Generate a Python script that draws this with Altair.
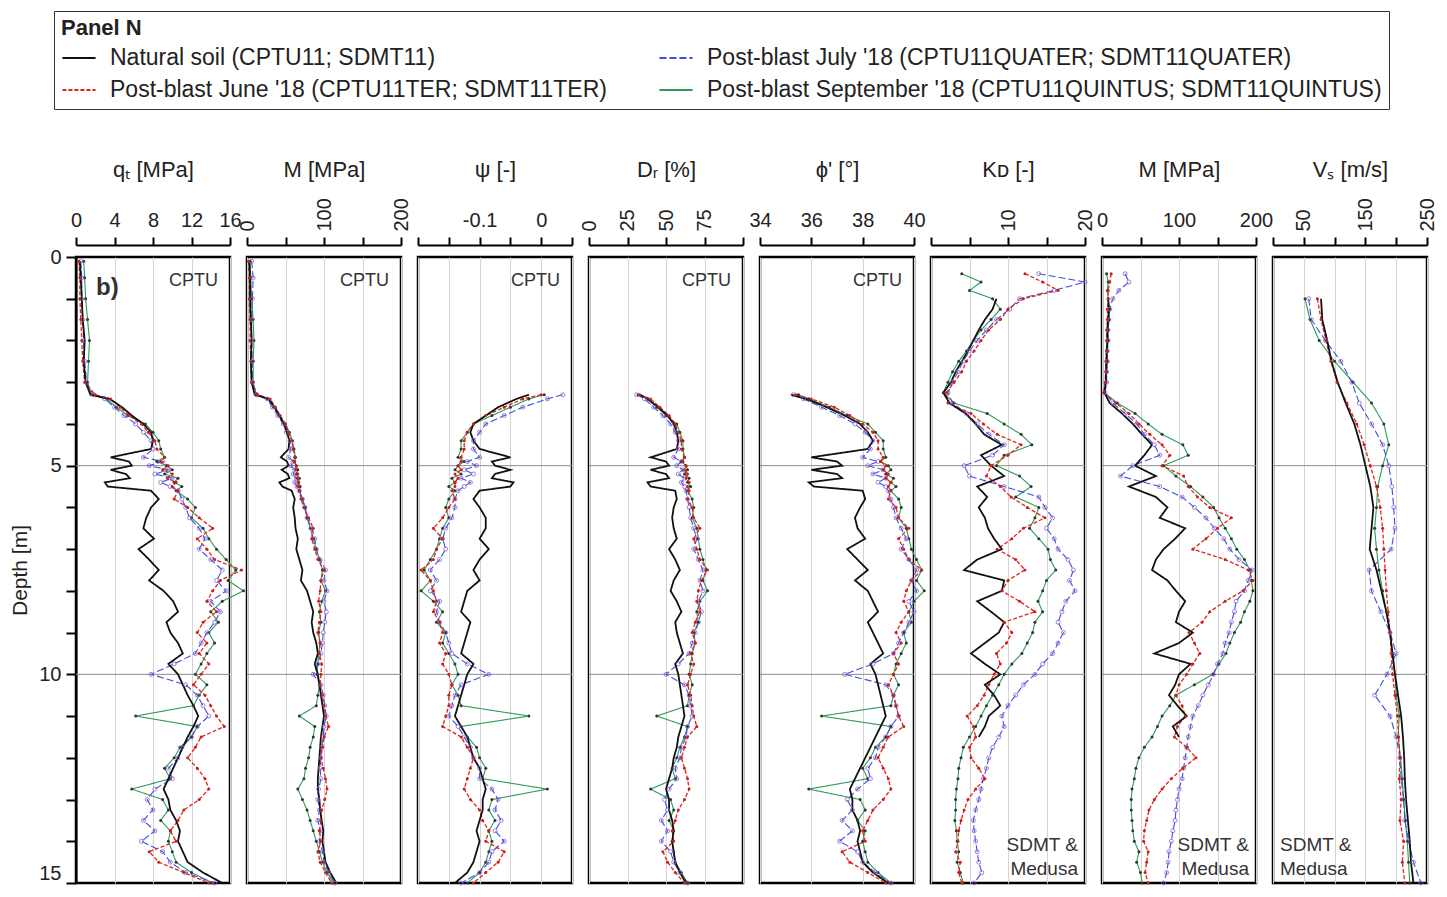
import altair as alt
import pandas as pd

NAT = "Natural soil (CPTU11; SDMT11)"
JUN = "Post-blast June '18 (CPTU11TER; SDMT11TER)"
JUL = "Post-blast July '18 (CPTU11QUATER; SDMT11QUATER)"
SEP = "Post-blast September '18 (CPTU11QUINTUS; SDMT11QUINTUS)"

# legend is filled column by column: Natural / June | July / September
series_order = [NAT, JUN, JUL, SEP]
series_colors = ["#111111", "#e0261b", "#3d4fe0", "#2e9b57"]
series_dash = [[1, 0], [4, 2], [7, 3], [1, 0]]

# ---------------- CPTU depths [m] ----------------
cptu_depth = [0.1, 0.5, 1.0, 1.5, 2.0, 2.5, 3.0, 3.3, 3.4, 3.6, 3.8, 4.0, 4.2, 4.4, 4.6,
              4.8, 4.9, 5.0, 5.1, 5.2, 5.3, 5.4, 5.5, 5.6, 5.8, 6.0, 6.25, 6.5, 6.75, 7.0,
              7.25, 7.5, 7.75, 8.0, 8.25, 8.5, 8.75, 9.0, 9.25, 9.5, 9.75, 10.0, 10.25, 10.5,
              10.75, 11.0, 11.25, 11.5, 11.75, 12.0, 12.25, 12.5, 12.75, 13.0, 13.25, 13.5,
              13.75, 14.0, 14.25, 14.5, 14.75, 15.0]
sand_depth = cptu_depth[7:]

# qt [MPa]
qt_nat = [0.4, 0.5, 0.6, 0.7, 0.9, 0.8, 1.0, 1.5, 3.5, 4.8, 5.8, 7.0, 7.8, 8.0, 7.8, 3.6, 5.5, 5.8, 3.6, 5.2,
          5.6, 3.0, 3.3, 7.8, 8.6, 7.8, 7.3, 7.0, 8.1, 6.5, 7.6, 8.6, 7.6, 9.1, 10.1, 10.6, 9.4, 9.8, 10.6, 11.1,
          9.6, 10.6, 11.1, 11.6, 12.2, 12.7, 12.2, 11.6, 11.1, 10.6, 10.1, 9.6, 9.1, 9.6, 9.8, 10.4, 10.8, 10.6, 11.1, 11.6,
          13.2, 15.2]
qt_jun = [0.3, 0.4, 0.4, 0.5, 0.6, 0.7, 0.9, 2.0, 3.6, 4.6, 5.5, 6.8, 7.5, 8.2, 8.4, 9.2, 8.8, 9.6, 9.0, 10.0,
          9.5, 10.4, 10.0, 10.6, 10.2, 11.6, 12.8, 14.2, 12.6, 13.6, 14.4, 17.2, 15.0, 14.2, 13.6, 14.6, 13.2, 12.6, 13.6, 12.8,
          13.8, 13.0, 12.2, 13.4, 14.0, 14.6, 15.4, 13.0, 12.4, 11.6, 12.6, 13.4, 13.8, 12.8, 11.2, 10.6, 9.8, 10.4, 7.6, 8.6,
          11.2, 13.8]
qt_jul = [0.5, 0.6, 0.6, 0.7, 0.8, 0.9, 1.1, 1.8, 3.0, 4.0, 5.0, 6.2, 7.0, 7.8, 8.0, 7.0, 9.0, 7.6, 9.6, 8.2,
          10.0, 8.8, 9.8, 10.6, 11.0, 11.4, 11.8, 12.8, 13.4, 12.8, 14.0, 15.2, 14.6, 15.6, 14.0, 15.0, 14.4, 13.6, 13.0, 12.4,
          10.2, 7.8, 11.4, 12.6, 13.2, 13.8, 12.6, 12.0, 11.0, 10.6, 9.6, 10.0, 8.2, 7.4, 8.0, 7.0, 8.2, 6.8, 9.0, 9.8,
          11.4, 14.4]
qt_sep = [0.8, 0.9, 1.0, 1.2, 1.4, 1.3, 1.2, 1.6, 3.2, 4.2, 5.4, 7.2, 8.0, 8.6, 8.8, 9.2, 8.4, 9.4, 10.0, 9.2,
          10.6, 10.2, 11.0, 10.4, 11.6, 12.4, 12.0, 13.2, 13.8, 14.6, 15.6, 16.6, 15.8, 17.4, 15.2, 14.0, 14.8, 13.8, 14.4, 13.6,
          13.0, 12.4, 13.6, 12.8, 12.2, 6.2, 12.6, 12.0, 10.8, 10.2, 9.2, 9.8, 5.8, 9.0, 9.6, 8.8, 9.8, 9.6, 10.0, 10.4,
          12.0, 14.2]

# M from CPTU [MPa]
mc_nat = [3, 4, 4, 5, 6, 5, 6, 10, 28, 36, 42, 48, 52, 55, 54, 44, 52, 54, 45, 53,
          55, 42, 46, 58, 62, 60, 62, 63, 66, 64, 68, 72, 70, 78, 82, 86, 84, 86, 90, 92,
          88, 92, 94, 96, 98, 100, 98, 96, 95, 94, 93, 92, 92, 94, 95, 97, 99, 98, 100, 102, 108, 116]
mc_jun = [2, 3, 3, 4, 4, 5, 6, 14, 30, 37, 43, 50, 54, 58, 60, 62, 61, 64, 63, 66,
          65, 67, 66, 68, 70, 74, 80, 86, 84, 88, 92, 100, 96, 95, 93, 96, 94, 92, 95, 94,
          97, 96, 95, 98, 100, 102, 106, 100, 98, 96, 99, 102, 104, 101, 97, 96, 94, 96, 92, 95, 102, 110]
mc_jul = [6, 8, 7, 6, 6, 7, 7, 12, 26, 33, 40, 47, 51, 56, 57, 54, 60, 57, 62, 60,
          64, 62, 65, 68, 72, 75, 78, 84, 88, 90, 95, 102, 100, 104, 100, 103, 101, 99, 98, 96,
          92, 86, 96, 99, 101, 103, 100, 99, 97, 96, 95, 96, 93, 92, 94, 92, 95, 94, 98, 100, 106, 114]
mc_sep = [4, 5, 6, 8, 9, 8, 8, 12, 27, 35, 42, 50, 55, 59, 61, 63, 62, 64, 66, 64,
          68, 67, 69, 68, 72, 76, 78, 82, 86, 90, 94, 98, 96, 102, 97, 94, 96, 93, 95, 93,
          92, 91, 94, 92, 90, 68, 88, 86, 82, 80, 76, 74, 66, 72, 78, 82, 86, 90, 94, 98, 104, 112]

# state parameter psi [-] (from 3.3 m)
psi_nat = [-0.02, -0.04, -0.07, -0.09, -0.11, -0.115, -0.11, -0.1, -0.05, -0.08, -0.075, -0.05, -0.075, -0.08,
           -0.045, -0.05, -0.1, -0.11, -0.1, -0.09, -0.09, -0.1, -0.085, -0.1, -0.11, -0.1, -0.12, -0.125, -0.13,
           -0.115, -0.12, -0.125, -0.13, -0.11, -0.12, -0.125, -0.13, -0.135, -0.14, -0.13, -0.12, -0.115, -0.11,
           -0.1, -0.095, -0.09, -0.095, -0.095, -0.1, -0.105, -0.1, -0.105, -0.11, -0.12, -0.14]
psi_jun = [0.0, -0.03, -0.06, -0.09, -0.11, -0.12, -0.125, -0.125, -0.13, -0.13, -0.135, -0.13, -0.14, -0.135,
           -0.14, -0.14, -0.145, -0.14, -0.15, -0.16, -0.175, -0.16, -0.17, -0.175, -0.195, -0.18, -0.175, -0.17,
           -0.175, -0.165, -0.16, -0.165, -0.155, -0.16, -0.15, -0.145, -0.15, -0.15, -0.155, -0.16, -0.13, -0.12,
           -0.11, -0.115, -0.12, -0.125, -0.115, -0.1, -0.095, -0.085, -0.09, -0.06, -0.07, -0.09, -0.11]
psi_jul = [0.035, 0.01, -0.03, -0.06, -0.09, -0.1, -0.11, -0.11, -0.1, -0.12, -0.105, -0.125, -0.11, -0.13,
           -0.115, -0.125, -0.135, -0.14, -0.14, -0.145, -0.155, -0.16, -0.155, -0.165, -0.18, -0.17, -0.18, -0.165,
           -0.17, -0.165, -0.155, -0.15, -0.145, -0.12, -0.085, -0.13, -0.14, -0.145, -0.15, -0.135, -0.125, -0.115,
           -0.11, -0.1, -0.1, -0.08, -0.07, -0.075, -0.065, -0.075, -0.06, -0.08, -0.085, -0.1, -0.13]
psi_sep = [0.005, -0.02, -0.05, -0.08, -0.11, -0.12, -0.13, -0.13, -0.135, -0.125, -0.135, -0.14, -0.13, -0.145,
           -0.14, -0.15, -0.14, -0.15, -0.155, -0.15, -0.16, -0.165, -0.17, -0.18, -0.19, -0.18, -0.195, -0.175,
           -0.16, -0.17, -0.155, -0.16, -0.15, -0.14, -0.135, -0.145, -0.135, -0.13, -0.02, -0.13, -0.12, -0.105,
           -0.1, -0.09, -0.095, 0.01, -0.08, -0.085, -0.075, -0.085, -0.08, -0.085, -0.09, -0.1, -0.12]

# relative density DR [%]
dr_nat = [33, 38, 45, 51, 55, 57, 58, 57, 40, 50, 52, 40, 50, 52, 38, 40, 56, 57, 55, 54,
          55, 57, 52, 56, 59, 55, 53, 57, 60, 56, 57, 59, 61, 56, 58, 59, 60, 61, 62, 60,
          58, 57, 55, 54, 52, 50, 52, 52, 54, 55, 54, 55, 56, 59, 63]
dr_jun = [33, 40, 46, 52, 56, 58, 60, 60, 62, 61, 63, 62, 64, 63, 65, 64, 65, 64, 67, 68,
          72, 68, 70, 72, 77, 73, 71, 70, 72, 69, 67, 69, 66, 68, 66, 64, 66, 67, 68, 70,
          64, 62, 60, 62, 64, 65, 62, 58, 56, 54, 55, 48, 51, 56, 62]
dr_jul = [31, 36, 42, 48, 53, 56, 58, 58, 55, 60, 57, 61, 58, 62, 60, 62, 63, 64, 65, 66,
          68, 70, 68, 71, 74, 72, 74, 71, 73, 71, 69, 67, 65, 58, 50, 62, 65, 66, 67, 64,
          63, 60, 59, 56, 57, 52, 49, 51, 47, 51, 47, 53, 55, 59, 64]
dr_sep = [32, 38, 44, 50, 57, 59, 61, 61, 62, 60, 63, 64, 62, 65, 64, 66, 64, 67, 68, 67,
          70, 71, 72, 74, 76, 74, 77, 72, 70, 71, 68, 69, 67, 66, 65, 67, 65, 64, 44, 64,
          62, 59, 57, 54, 56, 40, 53, 55, 52, 55, 54, 55, 56, 60, 64]

# friction angle phi' [deg]
phi_nat = [35.2, 35.8, 36.6, 37.3, 37.9, 38.2, 38.4, 38.2, 36.0, 37.0, 37.2, 36.0, 37.0, 37.2, 35.9, 36.1,
           38.0, 38.1, 37.9, 37.7, 37.8, 38.1, 37.4, 37.8, 38.2, 37.7, 38.2, 38.4, 38.6, 38.2, 38.4, 38.6,
           38.8, 38.3, 38.5, 38.6, 38.7, 38.8, 38.9, 38.7, 38.5, 38.3, 38.1, 37.9, 37.7, 37.5, 37.6, 37.6,
           37.8, 37.9, 37.8, 37.9, 38.0, 38.4, 39.0]
phi_jun = [35.4, 36.0, 36.9, 37.5, 38.0, 38.4, 38.6, 38.6, 38.8, 38.7, 38.9, 38.8, 39.0, 38.9, 39.1, 39.0,
           39.1, 39.0, 39.3, 39.4, 39.8, 39.4, 39.6, 39.8, 40.3, 39.9, 39.7, 39.6, 39.8, 39.5, 39.3, 39.5,
           39.2, 39.4, 39.2, 39.0, 39.2, 39.3, 39.4, 39.6, 39.0, 38.8, 38.6, 38.8, 39.0, 39.1, 38.8, 38.4,
           38.2, 38.0, 38.1, 37.2, 37.5, 38.2, 38.9]
phi_jul = [35.3, 35.7, 36.4, 37.1, 37.7, 38.1, 38.4, 38.3, 38.0, 38.6, 38.2, 38.8, 38.4, 38.9, 38.6, 38.9,
           39.0, 39.1, 39.2, 39.3, 39.5, 39.7, 39.5, 39.8, 40.1, 39.9, 40.1, 39.8, 40.0, 39.8, 39.6, 39.4,
           39.2, 38.4, 37.3, 38.9, 39.2, 39.3, 39.4, 39.1, 38.9, 38.6, 38.5, 38.2, 38.3, 37.8, 37.4, 37.6,
           37.2, 37.6, 37.1, 37.8, 38.0, 38.5, 39.1]
phi_sep = [35.5, 35.9, 36.7, 37.4, 38.2, 38.5, 38.8, 38.8, 38.9, 38.7, 39.0, 39.1, 38.9, 39.2, 39.1, 39.3,
           39.1, 39.4, 39.5, 39.4, 39.7, 39.8, 39.9, 40.1, 40.3, 40.1, 40.4, 40.0, 39.8, 39.9, 39.6, 39.7,
           39.5, 39.3, 39.2, 39.4, 39.2, 39.1, 36.4, 39.1, 38.9, 38.5, 38.3, 38.0, 38.2, 35.9, 37.9, 38.1,
           37.8, 38.1, 38.0, 38.1, 38.2, 38.6, 39.1]

# ---------------- SDMT depths [m] ----------------
sdmt_depth_nat = [1.0, 1.25, 1.5, 1.75, 2.0, 2.25, 2.5, 2.75, 3.0, 3.25, 3.5, 3.75, 4.0, 4.25, 4.5,
                  4.75, 5.0, 5.25, 5.5, 5.75, 6.0, 6.25, 6.5, 6.75, 7.0, 7.25, 7.5, 7.75, 8.0, 8.25,
                  8.5, 8.75, 9.0, 9.25, 9.5, 9.75, 10.0, 10.25, 10.5, 10.75, 11.0, 11.25, 11.5]
sdmt_depth_pb = [0.4, 0.6, 0.8, 1.0, 1.25, 1.5, 1.75, 2.0, 2.25, 2.5, 2.75, 3.0, 3.25, 3.5, 3.75,
                 4.0, 4.25, 4.5, 4.75, 5.0, 5.25, 5.5, 5.75, 6.0, 6.25, 6.5, 6.75, 7.0, 7.25, 7.5,
                 7.75, 8.0, 8.25, 8.5, 8.75, 9.0, 9.25, 9.5, 9.75, 10.0, 10.25, 10.5, 10.75, 11.0, 11.25,
                 11.5, 11.75, 12.0, 12.25, 12.5, 12.75, 13.0, 13.25, 13.5, 13.75, 14.0, 14.25, 14.5, 14.75, 15.0]

# horizontal stress index KD [-]
kd_nat = [8.5, 8.0, 7.0, 6.2, 5.5, 4.8, 4.0, 3.2, 2.6, 1.6, 2.4, 4.5, 5.8, 6.9, 9.2, 6.5, 7.8, 9.5, 6.0, 7.3,
          6.2, 7.0, 7.4, 8.2, 9.2, 6.0, 4.3, 9.5, 9.2, 6.0, 7.8, 9.5, 8.8, 7.0, 5.2, 7.0, 9.0, 7.0, 8.2, 9.0,
          7.5, 7.0, 6.2]
kd_jun = [12.2, 14.5, 16.5, 12.0, 10.0, 9.0, 7.5, 6.5, 5.6, 4.6, 4.0, 3.0, 2.0, 2.2, 5.2, 6.8, 8.6, 11.7, 10.0, 7.8,
          7.2, 9.0, 10.4, 12.5, 14.8, 12.0, 10.5, 8.6, 11.0, 12.2, 10.0, 9.2, 11.5, 13.5, 9.5, 10.5, 9.8, 8.5, 9.0, 8.2,
          7.5, 6.9, 6.0, 4.7, 5.5, 5.8, 5.0, 5.2, 6.2, 7.0, 5.8, 4.8, 4.3, 3.9, 3.6, 3.5, 3.2, 3.8, 3.6, 4.0]
kd_jul = [14.0, 20.0, 16.0, 11.5, 10.2, 8.5, 7.2, 6.0, 5.0, 4.2, 3.5, 2.8, 2.2, 2.8, 4.6, 6.0, 7.5, 9.5, 8.0, 4.3,
          5.0, 9.5, 14.0, 14.8, 15.8, 15.0, 16.0, 16.5, 17.8, 18.5, 18.0, 18.7, 17.5, 17.0, 16.5, 17.2, 16.5, 15.8, 14.5, 13.5,
          12.0, 11.0, 10.0, 9.2, 9.5, 8.8, 8.0, 7.5, 7.2, 6.8, 6.5, 6.2, 5.8, 5.5, 5.6, 5.8, 6.0, 6.2, 6.6, 5.6]
kd_sep = [4.0, 6.5, 5.0, 8.0, 9.0, 7.8, 6.5, 5.5, 4.6, 3.6, 2.8, 2.2, 1.6, 3.0, 7.3, 9.5, 11.7, 13.1, 9.5, 8.5,
          11.5, 13.0, 11.0, 14.0, 13.5, 12.8, 14.0, 15.2, 15.5, 16.2, 15.0, 14.5, 13.9, 14.5, 13.5, 13.2, 12.5, 11.8, 10.5, 9.5,
          8.8, 8.0, 7.2, 6.5, 5.8, 5.0, 4.2, 3.9, 3.6, 3.5, 3.3, 3.2, 3.2, 3.1, 3.3, 3.4, 3.6, 3.4, 3.8, 4.2]

# constrained modulus M from SDMT [MPa]
ms_nat = [8, 9, 8, 7, 7, 6, 6, 5, 5, 3, 10, 26, 40, 52, 65, 55, 43, 70, 35, 70,
          85, 75, 108, 95, 80, 70, 65, 85, 96, 108, 100, 96, 118, 100, 68, 115, 100, 95, 87, 98,
          110, 92, 100]
ms_jun = [12, 10, 8, 8, 7, 7, 6, 6, 6, 5, 5, 4, 2, 18, 35, 48, 62, 78, 88, 78,
          106, 112, 124, 140, 168, 150, 135, 118, 160, 190, 196, 183, 160, 140, 130, 113, 120, 127, 118, 110,
          100, 96, 104, 108, 98, 94, 110, 122, 105, 90, 78, 68, 61, 58, 55, 54, 60, 58, 56, 60]
ms_jul = [30, 35, 22, 14, 10, 9, 8, 8, 7, 7, 6, 6, 4, 14, 30, 45, 55, 68, 75, 40,
          24, 75, 104, 120, 135, 146, 158, 166, 178, 195, 190, 185, 174, 172, 168, 165, 160, 157, 150, 145,
          138, 131, 125, 118, 115, 112, 110, 108, 106, 104, 100, 98, 96, 95, 92, 90, 87, 86, 84, 80]
ms_sep = [6, 8, 7, 8, 10, 9, 8, 8, 7, 7, 6, 5, 3, 20, 43, 60, 78, 105, 112, 80,
          96, 115, 131, 145, 152, 160, 168, 175, 185, 192, 194, 196, 192, 185, 180, 172, 166, 161, 152, 144,
          120, 96, 88, 78, 72, 65, 55, 48, 44, 42, 39, 38, 38, 39, 40, 42, 48, 45, 50, 52]

# shear wave velocity Vs [m/s]
vs_depth = [1.0, 1.5, 2.0, 2.5, 3.0, 3.5, 4.0, 4.5, 5.0, 5.5, 6.0, 6.5, 7.0, 7.5, 8.0,
            8.5, 9.0, 9.5, 10.0, 10.5, 11.0, 11.5, 12.0, 12.5, 13.0, 13.5, 14.0, 14.5, 15.0]
vs_nat = [78, 80, 88, 95, 105, 118, 132, 142, 150, 158, 163, 160, 157, 168, 176,
          184, 190, 194, 198, 203, 208, 211, 213, 214, 216, 219, 222, 224, 228]
vs_jun = [72, 78, 86, 94, 104, 120, 136, 148, 158, 168, 174, 178, 180, 182, 184,
          187, 190, 192, 194, 198, 202, 204, 206, 205, 208, 206, 212, 210, 214]
vs_jul = [58, 62, 85, 110, 128, 140, 160, 178, 188, 193, 196, 198, 192, 156, 160,
          175, 190, 200, 185, 165, 190, 200, 206, 208, 212, 214, 220, 228, 240]
vs_sep = [52, 60, 75, 100, 130, 160, 180, 188, 178, 170, 168, 165, 168, 172, 178,
          184, 190, 194, 198, 200, 205, 203, 207, 210, 212, 215, 218, 220, 222]

grid_depths = [5, 10]

W, H = 154, 626
TXT = "#222222"


def profile(depths, values):
    parts = []
    for name, d, v in zip([NAT, JUN, JUL, SEP], depths, values):
        parts.append(pd.DataFrame({"d": d, "v": v, "s": name}))
    return pd.concat(parts, ignore_index=True)


legend = alt.Legend(
    title="Panel N", orient="none", legendX=-22, legendY=-246, columns=2,
    columnPadding=48, rowPadding=2, padding=7, strokeColor="#333333",
    titleFontSize=22, titleFontWeight="bold", titleColor=TXT, titlePadding=0, titleAnchor="start",
    labelFontSize=23, labelColor=TXT, labelLimit=2000, labelOffset=13,
    symbolType="stroke", symbolSize=1100, symbolStrokeWidth=2, gridAlign="each",
)


def note(text, xpx, ypx, align, size, weight="normal"):
    return alt.Chart(pd.DataFrame({"t": [text]})).mark_text(
        align=align, baseline="middle", fontSize=size, fontWeight=weight, color="#333333"
    ).encode(text="t:N", x=alt.value(xpx), y=alt.value(ypx))


def panel(df, domain, ticks, label_expr, angle, title, notes, first=False):
    yscale = alt.Scale(domain=[0, 15], reverse=True, nice=False, zero=False)
    if first:
        yaxis = alt.Axis(
            values=list(range(16)), labelExpr="datum.value % 5 === 0 ? datum.label : ''",
            labelBaseline=alt.condition("datum.value === 15", alt.value("bottom"), alt.value("middle")),
            tickSize=10, tickWidth=2, tickColor="black", domain=True, domainColor="black", domainWidth=2,
            labelFontSize=20, labelPadding=5, labelColor=TXT, labelFlush=False, labelOverlap=False,
            grid=False, title="Depth [m]", titleFontSize=21, titleFontWeight="normal", titleColor=TXT,
            titlePadding=8,
        )
    else:
        yaxis = None
    y = alt.Y("d:Q", scale=yscale, axis=yaxis)

    horiz = angle == 0
    axis_kw = dict(
        orient="top", values=ticks, labelAngle=angle,
        labelAlign="center" if horiz else "left", labelBaseline="bottom" if horiz else "middle",
        offset=12, domainColor="black", domainWidth=2, tickColor="black", tickWidth=2, tickSize=8,
        labelFontSize=20, labelPadding=7 if horiz else 6, labelColor=TXT, labelFlush=False,
        labelOverlap=False, grid=True, gridColor="#d4d4d4", gridWidth=1,
        title=title, titleFontSize=22, titleFontWeight="normal", titleColor=TXT,
        titleY=-64, titleBaseline="bottom",
    )
    if label_expr:
        axis_kw["labelExpr"] = label_expr
    x = alt.X("v:Q", scale=alt.Scale(domain=domain, nice=False, zero=False), axis=alt.Axis(**axis_kw))

    color = alt.Color("s:N", scale=alt.Scale(domain=series_order, range=series_colors), legend=legend)
    dash = alt.StrokeDash("s:N", scale=alt.Scale(domain=series_order, range=series_dash), legend=legend)

    base = alt.Chart(df)
    layers = [alt.Chart(pd.DataFrame({"d": grid_depths})).mark_rule(color="#8c8c8c", strokeWidth=1).encode(y=y)]
    for name, w in [(SEP, 1.1), (JUL, 1.1), (JUN, 1.3), (NAT, 1.8)]:
        layers.append(
            base.transform_filter(alt.FieldEqualPredicate(field="s", equal=name))
            .mark_line(strokeWidth=w)
            .encode(x=x, y=y, color=color, strokeDash=dash, order="d:Q")
        )
    layers.append(base.transform_filter(alt.FieldEqualPredicate(field="s", equal=SEP))
                  .mark_circle(size=9, color="#333333", opacity=1).encode(x=x, y=y))
    layers.append(base.transform_filter(alt.FieldEqualPredicate(field="s", equal=JUL))
                  .mark_point(shape="circle", filled=False, size=16, color="#8a5fd0", strokeWidth=0.8,
                              opacity=1).encode(x=x, y=y))
    layers.append(base.transform_filter(alt.FieldEqualPredicate(field="s", equal=JUN))
                  .mark_circle(size=9, color="#c8201a", opacity=1).encode(x=x, y=y))
    layers.extend(notes)
    return alt.layer(*layers).properties(width=W, height=H)


def top_note():
    return note("CPTU", W - 12, 24, "right", 18)


def sdmt_notes(align):
    xp = W - 7 if align == "right" else 7
    return [note("SDMT &", xp, H - 38, align, 19), note("Medusa", xp, H - 14, align, 19)]


def shown(vals):
    return "indexof(" + str(vals) + ", datum.value) >= 0 ? datum.label : ''"


p1 = panel(profile([cptu_depth] * 4, [qt_nat, qt_jun, qt_jul, qt_sep]), [0, 16], [0, 4, 8, 12, 16],
           None, 0, "qₜ [MPa]", [top_note(), note("b)", 20, 31, "left", 24, "bold")], first=True)
p2 = panel(profile([cptu_depth] * 4, [mc_nat, mc_jun, mc_jul, mc_sep]), [0, 200], [0, 50, 100, 150, 200],
           shown([0, 100, 200]), 270, "M [MPa]", [top_note()])
p3 = panel(profile([sand_depth] * 4, [psi_nat, psi_jun, psi_jul, psi_sep]), [-0.2, 0.05],
           [-0.2, -0.15, -0.1, -0.05, 0, 0.05],
           "abs(datum.value + 0.1) < 1e-9 ? '-0.1' : (abs(datum.value) < 1e-9 ? '0' : '')", 0, "ψ [-]",
           [top_note()])
p4 = panel(profile([sand_depth] * 4, [dr_nat, dr_jun, dr_jul, dr_sep]), [0, 100], [0, 25, 50, 75, 100],
           shown([0, 25, 50, 75]), 270, "Dᵣ [%]", [top_note()])
p5 = panel(profile([sand_depth] * 4, [phi_nat, phi_jun, phi_jul, phi_sep]), [34, 40], [34, 36, 38, 40],
           None, 0, "ϕ' [°]", [top_note()])
sd = [sdmt_depth_nat, sdmt_depth_pb, sdmt_depth_pb, sdmt_depth_pb]
p6 = panel(profile(sd, [kd_nat, kd_jun, kd_jul, kd_sep]), [0, 20], [0, 5, 10, 15, 20],
           shown([10, 20]), 270, "Kᴅ [-]", sdmt_notes("right"))
p7 = panel(profile(sd, [ms_nat, ms_jun, ms_jul, ms_sep]), [0, 200], [0, 50, 100, 150, 200],
           shown([0, 100, 200]), 0, "M [MPa]", sdmt_notes("right"))
p8 = panel(profile([vs_depth] * 4, [vs_nat, vs_jun, vs_jul, vs_sep]), [0, 250], [0, 50, 100, 150, 200, 250],
           shown([50, 150, 250]), 270, "Vₛ [m/s]", sdmt_notes("left"))

chart = (
    alt.hconcat(p1, p2, p3, p4, p5, p6, p7, p8, spacing=17, bounds="flush")
    .properties(padding={"left": 0, "top": 2, "right": 0, "bottom": 0}, background="white")
    .configure(font="Liberation Sans")
    .configure_view(stroke="black", strokeWidth=2.5)
)

chart.save("out.html", embed_options={"renderer": "svg", "actions": False})
